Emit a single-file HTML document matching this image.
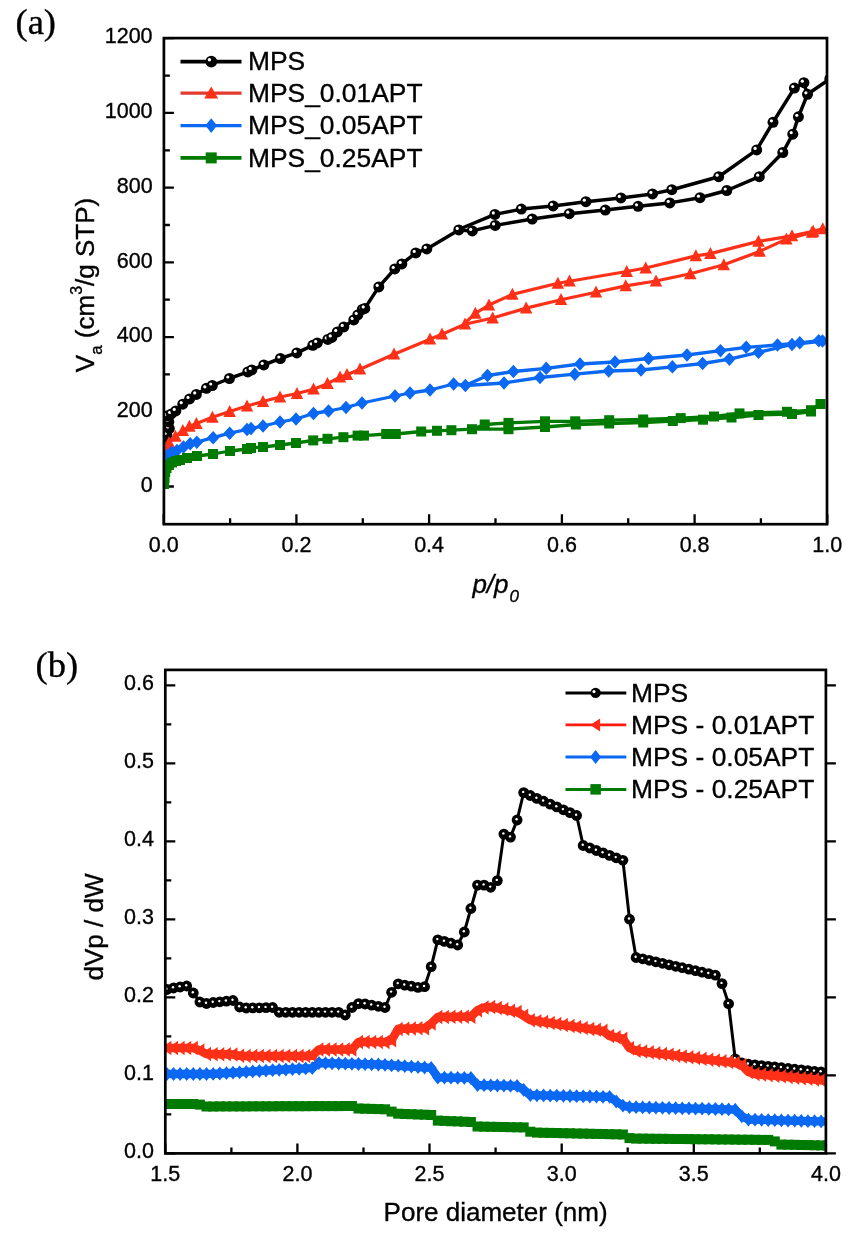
<!DOCTYPE html>
<html><head><meta charset="utf-8"><title>Isotherms</title>
<style>
html,body{margin:0;padding:0;background:#fff;width:850px;height:1235px;overflow:hidden}
svg{display:block;filter:blur(0.4px)}
text{font-family:"Liberation Sans",sans-serif;fill:#000;stroke:#000;stroke-width:0.35px}
.tk{font-size:21.5px}
.lg{font-size:26.4px}
.at{font-size:26px}
.pl{font-family:"Liberation Serif",serif;font-size:36.5px}
</style></head><body>
<svg width="850" height="1235" viewBox="0 0 850 1235">
<rect width="850" height="1235" fill="#fff"/>
<text x="15.5" y="34.2" class="pl">(a)</text>
<text x="35.5" y="677.2" class="pl">(b)</text>
<g id="pa">
<clipPath id="ca"><rect x="163.9" y="38.1" width="663.1" height="486.1"/></clipPath>
<path d="M163.9 486.5H173.9M163.9 449.1H169.9M163.9 411.8H173.9M163.9 374.4H169.9M163.9 337.1H173.9M163.9 299.7H169.9M163.9 262.4H173.9M163.9 225H169.9M163.9 187.6H173.9M163.9 150.3H169.9M163.9 112.9H173.9M163.9 75.6H169.9M163.9 38.2H173.9M163.7 524.2V514.2M230.1 524.2V518.2M296.4 524.2V514.2M362.8 524.2V518.2M429.1 524.2V514.2M495.5 524.2V518.2M561.9 524.2V514.2M628.2 524.2V518.2M694.6 524.2V514.2M760.9 524.2V518.2M827.3 524.2V514.2" stroke="#000" stroke-width="2.3" fill="none"/>
<g clip-path="url(#ca)">
<polyline points="165.1,441.9 166.8,434.9 169.3,428.4 168.8,421.9 167.5,416.1 171.3,413.9 175.8,410.9 182.8,404.2 189.6,398.9 196.3,394.4 206.4,388.3 212.3,385.5 229.4,378.5 247.8,371.9 251.8,369.9 263.8,364.9 280.4,358.5 296.8,352.9 312.8,345.3 317.3,342.9 327.8,339.4 331.8,337.4 337.3,331.9 343.8,326.9 353.8,319.9 357.8,314.9 362.3,309.4 364.8,308.4 378.8,286.9 394.8,268.9 401.8,263.9 415.8,252.9 426.8,248.9 458.8,229.9 472.3,230.9 495.2,225.4 532.2,219 569.3,213.7 605.3,210.1 638.1,206.3 669.8,202.9 700,197.7 726.8,190.5 759.3,176.7 782.8,152.5 792.8,134.2 798.4,116.8 807.5,94.3 829.8,78.9" fill="none" stroke="#000" stroke-width="3.5" stroke-linejoin="round" stroke-linecap="round"/>
<polyline points="807.2,93.9 803.9,82.7 794.4,88.1 773,122.3 756.7,149.9 718.7,176.7 671.8,189.7 652.5,193.9 620.9,197.9 585.9,201.7 553.1,205.9 521.3,209.1 494.9,214.4 458.5,229.5" fill="none" stroke="#000" stroke-width="3.5" stroke-linejoin="round" stroke-linecap="round"/>
<circle cx="165.1" cy="441.9" r="5.5" fill="#000"/><circle cx="163.5" cy="440.4" r="1.6" fill="#fff"/>
<circle cx="166.8" cy="434.9" r="5.5" fill="#000"/><circle cx="165.2" cy="433.4" r="1.6" fill="#fff"/>
<circle cx="169.3" cy="428.4" r="5.5" fill="#000"/><circle cx="167.7" cy="426.9" r="1.6" fill="#fff"/>
<circle cx="168.8" cy="421.9" r="5.5" fill="#000"/><circle cx="167.2" cy="420.4" r="1.6" fill="#fff"/>
<circle cx="167.5" cy="416.1" r="5.5" fill="#000"/><circle cx="165.9" cy="414.6" r="1.6" fill="#fff"/>
<circle cx="171.3" cy="413.9" r="5.5" fill="#000"/><circle cx="169.7" cy="412.4" r="1.6" fill="#fff"/>
<circle cx="175.8" cy="410.9" r="5.5" fill="#000"/><circle cx="174.2" cy="409.4" r="1.6" fill="#fff"/>
<circle cx="182.8" cy="404.2" r="5.5" fill="#000"/><circle cx="181.2" cy="402.7" r="1.6" fill="#fff"/>
<circle cx="189.6" cy="398.9" r="5.5" fill="#000"/><circle cx="188" cy="397.4" r="1.6" fill="#fff"/>
<circle cx="196.3" cy="394.4" r="5.5" fill="#000"/><circle cx="194.7" cy="392.9" r="1.6" fill="#fff"/>
<circle cx="206.4" cy="388.3" r="5.5" fill="#000"/><circle cx="204.8" cy="386.8" r="1.6" fill="#fff"/>
<circle cx="212.3" cy="385.5" r="5.5" fill="#000"/><circle cx="210.7" cy="384" r="1.6" fill="#fff"/>
<circle cx="229.4" cy="378.5" r="5.5" fill="#000"/><circle cx="227.8" cy="377" r="1.6" fill="#fff"/>
<circle cx="247.8" cy="371.9" r="5.5" fill="#000"/><circle cx="246.2" cy="370.4" r="1.6" fill="#fff"/>
<circle cx="251.8" cy="369.9" r="5.5" fill="#000"/><circle cx="250.2" cy="368.4" r="1.6" fill="#fff"/>
<circle cx="263.8" cy="364.9" r="5.5" fill="#000"/><circle cx="262.2" cy="363.4" r="1.6" fill="#fff"/>
<circle cx="280.4" cy="358.5" r="5.5" fill="#000"/><circle cx="278.8" cy="357" r="1.6" fill="#fff"/>
<circle cx="296.8" cy="352.9" r="5.5" fill="#000"/><circle cx="295.2" cy="351.4" r="1.6" fill="#fff"/>
<circle cx="312.8" cy="345.3" r="5.5" fill="#000"/><circle cx="311.2" cy="343.8" r="1.6" fill="#fff"/>
<circle cx="317.3" cy="342.9" r="5.5" fill="#000"/><circle cx="315.7" cy="341.4" r="1.6" fill="#fff"/>
<circle cx="327.8" cy="339.4" r="5.5" fill="#000"/><circle cx="326.2" cy="337.9" r="1.6" fill="#fff"/>
<circle cx="331.8" cy="337.4" r="5.5" fill="#000"/><circle cx="330.2" cy="335.9" r="1.6" fill="#fff"/>
<circle cx="337.3" cy="331.9" r="5.5" fill="#000"/><circle cx="335.7" cy="330.4" r="1.6" fill="#fff"/>
<circle cx="343.8" cy="326.9" r="5.5" fill="#000"/><circle cx="342.2" cy="325.4" r="1.6" fill="#fff"/>
<circle cx="353.8" cy="319.9" r="5.5" fill="#000"/><circle cx="352.2" cy="318.4" r="1.6" fill="#fff"/>
<circle cx="357.8" cy="314.9" r="5.5" fill="#000"/><circle cx="356.2" cy="313.4" r="1.6" fill="#fff"/>
<circle cx="362.3" cy="309.4" r="5.5" fill="#000"/><circle cx="360.7" cy="307.9" r="1.6" fill="#fff"/>
<circle cx="364.8" cy="308.4" r="5.5" fill="#000"/><circle cx="363.2" cy="306.9" r="1.6" fill="#fff"/>
<circle cx="378.8" cy="286.9" r="5.5" fill="#000"/><circle cx="377.2" cy="285.4" r="1.6" fill="#fff"/>
<circle cx="394.8" cy="268.9" r="5.5" fill="#000"/><circle cx="393.2" cy="267.4" r="1.6" fill="#fff"/>
<circle cx="401.8" cy="263.9" r="5.5" fill="#000"/><circle cx="400.2" cy="262.4" r="1.6" fill="#fff"/>
<circle cx="415.8" cy="252.9" r="5.5" fill="#000"/><circle cx="414.2" cy="251.4" r="1.6" fill="#fff"/>
<circle cx="426.8" cy="248.9" r="5.5" fill="#000"/><circle cx="425.2" cy="247.4" r="1.6" fill="#fff"/>
<circle cx="458.8" cy="229.9" r="5.5" fill="#000"/><circle cx="457.2" cy="228.4" r="1.6" fill="#fff"/>
<circle cx="472.3" cy="230.9" r="5.5" fill="#000"/><circle cx="470.7" cy="229.4" r="1.6" fill="#fff"/>
<circle cx="495.2" cy="225.4" r="5.5" fill="#000"/><circle cx="493.6" cy="223.9" r="1.6" fill="#fff"/>
<circle cx="532.2" cy="219" r="5.5" fill="#000"/><circle cx="530.6" cy="217.5" r="1.6" fill="#fff"/>
<circle cx="569.3" cy="213.7" r="5.5" fill="#000"/><circle cx="567.7" cy="212.2" r="1.6" fill="#fff"/>
<circle cx="605.3" cy="210.1" r="5.5" fill="#000"/><circle cx="603.7" cy="208.6" r="1.6" fill="#fff"/>
<circle cx="638.1" cy="206.3" r="5.5" fill="#000"/><circle cx="636.5" cy="204.8" r="1.6" fill="#fff"/>
<circle cx="669.8" cy="202.9" r="5.5" fill="#000"/><circle cx="668.2" cy="201.4" r="1.6" fill="#fff"/>
<circle cx="700" cy="197.7" r="5.5" fill="#000"/><circle cx="698.4" cy="196.2" r="1.6" fill="#fff"/>
<circle cx="726.8" cy="190.5" r="5.5" fill="#000"/><circle cx="725.2" cy="189" r="1.6" fill="#fff"/>
<circle cx="759.3" cy="176.7" r="5.5" fill="#000"/><circle cx="757.7" cy="175.2" r="1.6" fill="#fff"/>
<circle cx="782.8" cy="152.5" r="5.5" fill="#000"/><circle cx="781.2" cy="151" r="1.6" fill="#fff"/>
<circle cx="792.8" cy="134.2" r="5.5" fill="#000"/><circle cx="791.2" cy="132.7" r="1.6" fill="#fff"/>
<circle cx="798.4" cy="116.8" r="5.5" fill="#000"/><circle cx="796.8" cy="115.3" r="1.6" fill="#fff"/>
<circle cx="807.5" cy="94.3" r="5.5" fill="#000"/><circle cx="805.9" cy="92.8" r="1.6" fill="#fff"/>
<circle cx="829.8" cy="78.9" r="5.5" fill="#000"/><circle cx="828.2" cy="77.4" r="1.6" fill="#fff"/>
<circle cx="803.9" cy="82.7" r="5.5" fill="#000"/><circle cx="802.3" cy="81.2" r="1.6" fill="#fff"/>
<circle cx="794.4" cy="88.1" r="5.5" fill="#000"/><circle cx="792.8" cy="86.6" r="1.6" fill="#fff"/>
<circle cx="773" cy="122.3" r="5.5" fill="#000"/><circle cx="771.4" cy="120.8" r="1.6" fill="#fff"/>
<circle cx="756.7" cy="149.9" r="5.5" fill="#000"/><circle cx="755.1" cy="148.4" r="1.6" fill="#fff"/>
<circle cx="718.7" cy="176.7" r="5.5" fill="#000"/><circle cx="717.1" cy="175.2" r="1.6" fill="#fff"/>
<circle cx="671.8" cy="189.7" r="5.5" fill="#000"/><circle cx="670.2" cy="188.2" r="1.6" fill="#fff"/>
<circle cx="652.5" cy="193.9" r="5.5" fill="#000"/><circle cx="650.9" cy="192.4" r="1.6" fill="#fff"/>
<circle cx="620.9" cy="197.9" r="5.5" fill="#000"/><circle cx="619.3" cy="196.4" r="1.6" fill="#fff"/>
<circle cx="585.9" cy="201.7" r="5.5" fill="#000"/><circle cx="584.3" cy="200.2" r="1.6" fill="#fff"/>
<circle cx="553.1" cy="205.9" r="5.5" fill="#000"/><circle cx="551.5" cy="204.4" r="1.6" fill="#fff"/>
<circle cx="521.3" cy="209.1" r="5.5" fill="#000"/><circle cx="519.7" cy="207.6" r="1.6" fill="#fff"/>
<circle cx="494.9" cy="214.4" r="5.5" fill="#000"/><circle cx="493.3" cy="212.9" r="1.6" fill="#fff"/>
<polyline points="164,453 166,448 169,442.5 175.4,436.3 182.8,430.5 189.4,426.4 196.4,423.5 212.4,417.3 229.7,411.6 247,406 263,401.5 280,397 297,393.5 313.5,389.2 327.5,383.7 340,377.2 347,374.7 360,369.2 394,354.2 430,339.2 442,334.2 465,324.2 492.7,318 526.1,308.1 561,299.7 596,292.2 625.7,285.9 656,281 690.3,273.8 723.8,264.8 759.6,251.4 786.4,239.1 812,232.4 822.8,228.8" fill="none" stroke="#fe3018" stroke-width="3.2" stroke-linejoin="round" stroke-linecap="round"/>
<polyline points="465,323 475.3,313.4 489,305 512.4,294.4 557.9,283.3 569.5,281.2 626.7,271.5 645.7,268 695.9,255.9 710.4,253.6 758.5,241.4 792,235.8 813.2,231.3 822.8,228.8" fill="none" stroke="#fe3018" stroke-width="3.2" stroke-linejoin="round" stroke-linecap="round"/>
<polygon points="164,446.4 170.2,458.4 157.8,458.4" fill="#fe3018"/>
<polygon points="166,441.4 172.2,453.4 159.8,453.4" fill="#fe3018"/>
<polygon points="169,435.9 175.2,447.9 162.8,447.9" fill="#fe3018"/>
<polygon points="175.4,429.7 181.7,441.7 169.2,441.7" fill="#fe3018"/>
<polygon points="182.8,423.9 189.1,435.9 176.6,435.9" fill="#fe3018"/>
<polygon points="189.4,419.8 195.7,431.8 183.2,431.8" fill="#fe3018"/>
<polygon points="196.4,416.9 202.7,428.9 190.2,428.9" fill="#fe3018"/>
<polygon points="212.4,410.7 218.7,422.7 206.2,422.7" fill="#fe3018"/>
<polygon points="229.7,405 235.9,417 223.4,417" fill="#fe3018"/>
<polygon points="247,399.4 253.2,411.4 240.8,411.4" fill="#fe3018"/>
<polygon points="263,394.9 269.2,406.9 256.8,406.9" fill="#fe3018"/>
<polygon points="280,390.4 286.2,402.4 273.8,402.4" fill="#fe3018"/>
<polygon points="297,386.9 303.2,398.9 290.8,398.9" fill="#fe3018"/>
<polygon points="313.5,382.6 319.8,394.6 307.2,394.6" fill="#fe3018"/>
<polygon points="327.5,377.1 333.8,389.1 321.2,389.1" fill="#fe3018"/>
<polygon points="340,370.6 346.2,382.6 333.8,382.6" fill="#fe3018"/>
<polygon points="347,368.1 353.2,380.1 340.8,380.1" fill="#fe3018"/>
<polygon points="360,362.6 366.2,374.6 353.8,374.6" fill="#fe3018"/>
<polygon points="394,347.6 400.2,359.6 387.8,359.6" fill="#fe3018"/>
<polygon points="430,332.6 436.2,344.6 423.8,344.6" fill="#fe3018"/>
<polygon points="442,327.6 448.2,339.6 435.8,339.6" fill="#fe3018"/>
<polygon points="465,317.6 471.2,329.6 458.8,329.6" fill="#fe3018"/>
<polygon points="492.7,311.4 498.9,323.4 486.4,323.4" fill="#fe3018"/>
<polygon points="526.1,301.5 532.4,313.5 519.9,313.5" fill="#fe3018"/>
<polygon points="561,293.1 567.2,305.1 554.8,305.1" fill="#fe3018"/>
<polygon points="596,285.6 602.2,297.6 589.8,297.6" fill="#fe3018"/>
<polygon points="625.7,279.3 632,291.3 619.5,291.3" fill="#fe3018"/>
<polygon points="656,274.4 662.2,286.4 649.8,286.4" fill="#fe3018"/>
<polygon points="690.3,267.2 696.5,279.2 684,279.2" fill="#fe3018"/>
<polygon points="723.8,258.2 730,270.2 717.5,270.2" fill="#fe3018"/>
<polygon points="759.6,244.8 765.9,256.8 753.4,256.8" fill="#fe3018"/>
<polygon points="786.4,232.5 792.6,244.5 780.1,244.5" fill="#fe3018"/>
<polygon points="812,225.8 818.2,237.8 805.8,237.8" fill="#fe3018"/>
<polygon points="822.8,222.2 829,234.2 816.5,234.2" fill="#fe3018"/>
<polygon points="475.3,306.8 481.6,318.8 469.1,318.8" fill="#fe3018"/>
<polygon points="489,298.4 495.2,310.4 482.8,310.4" fill="#fe3018"/>
<polygon points="512.4,287.8 518.6,299.8 506.1,299.8" fill="#fe3018"/>
<polygon points="557.9,276.7 564.1,288.7 551.6,288.7" fill="#fe3018"/>
<polygon points="569.5,274.6 575.8,286.6 563.2,286.6" fill="#fe3018"/>
<polygon points="626.7,264.9 633,276.9 620.5,276.9" fill="#fe3018"/>
<polygon points="645.7,261.4 652,273.4 639.5,273.4" fill="#fe3018"/>
<polygon points="695.9,249.3 702.1,261.3 689.6,261.3" fill="#fe3018"/>
<polygon points="710.4,247 716.6,259 704.1,259" fill="#fe3018"/>
<polygon points="758.5,234.8 764.8,246.8 752.2,246.8" fill="#fe3018"/>
<polygon points="792,229.2 798.2,241.2 785.8,241.2" fill="#fe3018"/>
<polygon points="813.2,224.7 819.5,236.7 807,236.7" fill="#fe3018"/>
<polyline points="164,462 165.5,458 168,455 171.5,452.5 177,450.5 183.5,447 190.2,443.7 196.8,442.2 213.2,437.7 229.7,433.2 247,429.5 251,428.5 263,426 280,422 296,419 313.5,413.5 328.5,411 346,407.5 362,403 395,396 410,393 430,390 453.6,384 465.4,385.5 504,383 540,377.5 574.8,374.2 608.7,371 641,370 672.4,366.9 702.6,363.5 729.4,359.1 758.5,352.4 792,344.5 822.5,341" fill="none" stroke="#0a68f2" stroke-width="3.3" stroke-linejoin="round" stroke-linecap="round"/>
<polyline points="465.4,385.5 487.5,375.5 513.4,371.5 546.2,368.4 580,364 615,362 648.5,358.5 687,355 720.5,350.6 746.2,347.3 777.5,345 799.8,342.8 818.8,340.6 822.5,341.5" fill="none" stroke="#0a68f2" stroke-width="3.3" stroke-linejoin="round" stroke-linecap="round"/>
<polygon points="164,455.2 170.2,462 164,468.8 157.8,462" fill="#0a68f2"/>
<polygon points="165.5,451.2 171.8,458 165.5,464.8 159.2,458" fill="#0a68f2"/>
<polygon points="168,448.2 174.2,455 168,461.8 161.8,455" fill="#0a68f2"/>
<polygon points="171.5,445.8 177.8,452.5 171.5,459.2 165.2,452.5" fill="#0a68f2"/>
<polygon points="177,443.8 183.2,450.5 177,457.2 170.8,450.5" fill="#0a68f2"/>
<polygon points="183.5,440.2 189.8,447 183.5,453.8 177.2,447" fill="#0a68f2"/>
<polygon points="190.2,436.9 196.4,443.7 190.2,450.4 183.9,443.7" fill="#0a68f2"/>
<polygon points="196.8,435.4 203.1,442.2 196.8,448.9 190.6,442.2" fill="#0a68f2"/>
<polygon points="213.2,430.9 219.4,437.7 213.2,444.4 206.9,437.7" fill="#0a68f2"/>
<polygon points="229.7,426.4 235.9,433.2 229.7,439.9 223.4,433.2" fill="#0a68f2"/>
<polygon points="247,422.8 253.2,429.5 247,436.2 240.8,429.5" fill="#0a68f2"/>
<polygon points="251,421.8 257.2,428.5 251,435.2 244.8,428.5" fill="#0a68f2"/>
<polygon points="263,419.2 269.2,426 263,432.8 256.8,426" fill="#0a68f2"/>
<polygon points="280,415.2 286.2,422 280,428.8 273.8,422" fill="#0a68f2"/>
<polygon points="296,412.2 302.2,419 296,425.8 289.8,419" fill="#0a68f2"/>
<polygon points="313.5,406.8 319.8,413.5 313.5,420.2 307.2,413.5" fill="#0a68f2"/>
<polygon points="328.5,404.2 334.8,411 328.5,417.8 322.2,411" fill="#0a68f2"/>
<polygon points="346,400.8 352.2,407.5 346,414.2 339.8,407.5" fill="#0a68f2"/>
<polygon points="362,396.2 368.2,403 362,409.8 355.8,403" fill="#0a68f2"/>
<polygon points="395,389.2 401.2,396 395,402.8 388.8,396" fill="#0a68f2"/>
<polygon points="410,386.2 416.2,393 410,399.8 403.8,393" fill="#0a68f2"/>
<polygon points="430,383.2 436.2,390 430,396.8 423.8,390" fill="#0a68f2"/>
<polygon points="453.6,377.2 459.9,384 453.6,390.8 447.4,384" fill="#0a68f2"/>
<polygon points="465.4,378.8 471.6,385.5 465.4,392.2 459.1,385.5" fill="#0a68f2"/>
<polygon points="504,376.2 510.2,383 504,389.8 497.8,383" fill="#0a68f2"/>
<polygon points="540,370.8 546.2,377.5 540,384.2 533.8,377.5" fill="#0a68f2"/>
<polygon points="574.8,367.4 581,374.2 574.8,380.9 568.5,374.2" fill="#0a68f2"/>
<polygon points="608.7,364.2 615,371 608.7,377.8 602.5,371" fill="#0a68f2"/>
<polygon points="641,363.2 647.2,370 641,376.8 634.8,370" fill="#0a68f2"/>
<polygon points="672.4,360.1 678.6,366.9 672.4,373.6 666.1,366.9" fill="#0a68f2"/>
<polygon points="702.6,356.8 708.9,363.5 702.6,370.2 696.4,363.5" fill="#0a68f2"/>
<polygon points="729.4,352.4 735.6,359.1 729.4,365.9 723.1,359.1" fill="#0a68f2"/>
<polygon points="758.5,345.6 764.8,352.4 758.5,359.1 752.2,352.4" fill="#0a68f2"/>
<polygon points="792,337.8 798.2,344.5 792,351.2 785.8,344.5" fill="#0a68f2"/>
<polygon points="822.5,334.2 828.8,341 822.5,347.8 816.2,341" fill="#0a68f2"/>
<polygon points="487.5,368.8 493.8,375.5 487.5,382.2 481.2,375.5" fill="#0a68f2"/>
<polygon points="513.4,364.8 519.6,371.5 513.4,378.2 507.1,371.5" fill="#0a68f2"/>
<polygon points="546.2,361.6 552.5,368.4 546.2,375.1 540,368.4" fill="#0a68f2"/>
<polygon points="580,357.2 586.2,364 580,370.8 573.8,364" fill="#0a68f2"/>
<polygon points="615,355.2 621.2,362 615,368.8 608.8,362" fill="#0a68f2"/>
<polygon points="648.5,351.8 654.8,358.5 648.5,365.2 642.2,358.5" fill="#0a68f2"/>
<polygon points="687,348.2 693.2,355 687,361.8 680.8,355" fill="#0a68f2"/>
<polygon points="720.5,343.9 726.8,350.6 720.5,357.4 714.2,350.6" fill="#0a68f2"/>
<polygon points="746.2,340.6 752.5,347.3 746.2,354.1 740,347.3" fill="#0a68f2"/>
<polygon points="777.5,338.2 783.8,345 777.5,351.8 771.2,345" fill="#0a68f2"/>
<polygon points="799.8,336.1 806,342.8 799.8,349.6 793.5,342.8" fill="#0a68f2"/>
<polygon points="818.8,333.9 825,340.6 818.8,347.4 812.5,340.6" fill="#0a68f2"/>
<polyline points="164,484 164.5,478 165.2,472 166.5,468 169,465 172,462.5 176,461 180,460 187,458 197,456 213,454 230,451 247,449 251,448 263,447 280,445 296,443 313.2,440.4 327.5,438.8 343.4,437.2 357.6,435.6 364,435.6 386.2,434 395.8,434 421.2,431.5 437,430.8 451.4,430.2 472,429.2 508.5,429.2 545,427 575.9,424.5 609.2,423.5 643.2,422.5 672.8,421 703,419.7 731.5,417.5 758.5,415 792,414 811,411.5 820.5,404" fill="none" stroke="#007a00" stroke-width="3.3" stroke-linejoin="round" stroke-linecap="round"/>
<polyline points="472,429.2 484.7,424.5 508.5,422.9 545,421.3 575.2,421.3 609.2,420.2 643.2,419.5 680.7,418.1 714,416.5 739.5,413.4 787,411.8 811,410.2 820.5,404" fill="none" stroke="#007a00" stroke-width="3.3" stroke-linejoin="round" stroke-linecap="round"/>
<rect x="159" y="479" width="10" height="10" fill="#007a00"/>
<rect x="159.5" y="473" width="10" height="10" fill="#007a00"/>
<rect x="160.2" y="467" width="10" height="10" fill="#007a00"/>
<rect x="161.5" y="463" width="10" height="10" fill="#007a00"/>
<rect x="164" y="460" width="10" height="10" fill="#007a00"/>
<rect x="167" y="457.5" width="10" height="10" fill="#007a00"/>
<rect x="171" y="456" width="10" height="10" fill="#007a00"/>
<rect x="175" y="455" width="10" height="10" fill="#007a00"/>
<rect x="182" y="453" width="10" height="10" fill="#007a00"/>
<rect x="192" y="451" width="10" height="10" fill="#007a00"/>
<rect x="208" y="449" width="10" height="10" fill="#007a00"/>
<rect x="225" y="446" width="10" height="10" fill="#007a00"/>
<rect x="242" y="444" width="10" height="10" fill="#007a00"/>
<rect x="246" y="443" width="10" height="10" fill="#007a00"/>
<rect x="258" y="442" width="10" height="10" fill="#007a00"/>
<rect x="275" y="440" width="10" height="10" fill="#007a00"/>
<rect x="291" y="438" width="10" height="10" fill="#007a00"/>
<rect x="308.2" y="435.4" width="10" height="10" fill="#007a00"/>
<rect x="322.5" y="433.8" width="10" height="10" fill="#007a00"/>
<rect x="338.4" y="432.2" width="10" height="10" fill="#007a00"/>
<rect x="352.6" y="430.6" width="10" height="10" fill="#007a00"/>
<rect x="359" y="430.6" width="10" height="10" fill="#007a00"/>
<rect x="381.2" y="429" width="10" height="10" fill="#007a00"/>
<rect x="390.8" y="429" width="10" height="10" fill="#007a00"/>
<rect x="416.2" y="426.5" width="10" height="10" fill="#007a00"/>
<rect x="432" y="425.8" width="10" height="10" fill="#007a00"/>
<rect x="446.4" y="425.2" width="10" height="10" fill="#007a00"/>
<rect x="467" y="424.2" width="10" height="10" fill="#007a00"/>
<rect x="503.5" y="424.2" width="10" height="10" fill="#007a00"/>
<rect x="540" y="422" width="10" height="10" fill="#007a00"/>
<rect x="570.9" y="419.5" width="10" height="10" fill="#007a00"/>
<rect x="604.2" y="418.5" width="10" height="10" fill="#007a00"/>
<rect x="638.2" y="417.5" width="10" height="10" fill="#007a00"/>
<rect x="667.8" y="416" width="10" height="10" fill="#007a00"/>
<rect x="698" y="414.7" width="10" height="10" fill="#007a00"/>
<rect x="726.5" y="412.5" width="10" height="10" fill="#007a00"/>
<rect x="753.5" y="410" width="10" height="10" fill="#007a00"/>
<rect x="787" y="409" width="10" height="10" fill="#007a00"/>
<rect x="806" y="406.5" width="10" height="10" fill="#007a00"/>
<rect x="815.5" y="399" width="10" height="10" fill="#007a00"/>
<rect x="479.7" y="419.5" width="10" height="10" fill="#007a00"/>
<rect x="503.5" y="417.9" width="10" height="10" fill="#007a00"/>
<rect x="540" y="416.3" width="10" height="10" fill="#007a00"/>
<rect x="570.2" y="416.3" width="10" height="10" fill="#007a00"/>
<rect x="604.2" y="415.2" width="10" height="10" fill="#007a00"/>
<rect x="638.2" y="414.5" width="10" height="10" fill="#007a00"/>
<rect x="675.7" y="413.1" width="10" height="10" fill="#007a00"/>
<rect x="709" y="411.5" width="10" height="10" fill="#007a00"/>
<rect x="734.5" y="408.4" width="10" height="10" fill="#007a00"/>
<rect x="782" y="406.8" width="10" height="10" fill="#007a00"/>
<rect x="806" y="405.2" width="10" height="10" fill="#007a00"/>
</g>
<rect x="163.9" y="38.1" width="663.1" height="486.1" fill="none" stroke="#000" stroke-width="2.7"/>
<text x="152.6" y="491.6" class="tk" text-anchor="end">0</text>
<text x="152.6" y="416.9" class="tk" text-anchor="end">200</text>
<text x="152.6" y="342.2" class="tk" text-anchor="end">400</text>
<text x="152.6" y="267.5" class="tk" text-anchor="end">600</text>
<text x="152.6" y="192.7" class="tk" text-anchor="end">800</text>
<text x="152.6" y="118" class="tk" text-anchor="end">1000</text>
<text x="152.6" y="43.3" class="tk" text-anchor="end">1200</text>
<text x="163.7" y="552" class="tk" text-anchor="middle">0.0</text>
<text x="296.4" y="552" class="tk" text-anchor="middle">0.2</text>
<text x="429.1" y="552" class="tk" text-anchor="middle">0.4</text>
<text x="561.9" y="552" class="tk" text-anchor="middle">0.6</text>
<text x="694.6" y="552" class="tk" text-anchor="middle">0.8</text>
<text x="827.3" y="552" class="tk" text-anchor="middle">1.0</text>
<line x1="180.5" y1="61.6" x2="241.5" y2="61.6" stroke="#000" stroke-width="3.6"/>
<circle cx="211.3" cy="61.6" r="5.9" fill="#000"/><circle cx="209.4" cy="59.8" r="1.7" fill="#fff"/>
<line x1="180.5" y1="93.2" x2="241.5" y2="93.2" stroke="#e23a2e" stroke-width="3.2"/>
<polygon points="211.2,86.6 218.2,98.6 204.2,98.6" fill="#fe3018"/>
<line x1="180.5" y1="125.6" x2="241.5" y2="125.6" stroke="#0a68f2" stroke-width="3.4"/>
<polygon points="211.2,118.3 217,125.6 211.2,132.9 205.4,125.6" fill="#0a68f2"/>
<line x1="180.5" y1="157.9" x2="241.5" y2="157.9" stroke="#007a00" stroke-width="3.6"/>
<rect x="205.7" y="152.4" width="11" height="11" fill="#007a00"/>
<text x="248" y="70.4" class="lg">MPS</text>
<text x="248" y="102" class="lg">MPS_0.01APT</text>
<text x="248" y="134.4" class="lg">MPS_0.05APT</text>
<text x="248" y="166.7" class="lg">MPS_0.25APT</text>
<text transform="translate(94,285) rotate(-90)" text-anchor="middle" class="at">V<tspan font-size="17" dy="7.5">a</tspan><tspan dy="-7.5"> (cm</tspan><tspan font-size="16" dy="-12.5">3</tspan><tspan dy="12.5">/g STP)</tspan></text>
<text x="472.4" y="592.5" class="at" font-style="italic">p/p<tspan font-size="17" dy="9.5" dx="1">0</tspan></text>
</g>
<g id="pb">
<clipPath id="cb"><rect x="165.3" y="669.9" width="660.6" height="483.5"/></clipPath>
<path d="M165.3 1153.4H175.3M825.9 1153.4H835.9M165.3 1114.4H171.3M165.3 1075.4H175.3M825.9 1075.4H835.9M165.3 1036.4H171.3M165.3 997.4H175.3M825.9 997.4H835.9M165.3 958.4H171.3M165.3 919.3H175.3M825.9 919.3H835.9M165.3 880.3H171.3M165.3 841.3H175.3M825.9 841.3H835.9M165.3 802.3H171.3M165.3 763.3H175.3M825.9 763.3H835.9M165.3 724.3H171.3M165.3 685.3H175.3M825.9 685.3H835.9M165.3 1153.4V1143.4M231.4 1153.4V1147.4M297.4 1153.4V1143.4M363.5 1153.4V1147.4M429.5 1153.4V1143.4M495.6 1153.4V1147.4M561.7 1153.4V1143.4M627.7 1153.4V1147.4M693.8 1153.4V1143.4M759.8 1153.4V1147.4M825.9 1153.4V1143.4" stroke="#000" stroke-width="2.3" fill="none"/>
<g clip-path="url(#cb)">
<polyline points="166.9,989.5 173.5,988 180.1,987 186.7,986 193.3,993 199.9,1002 206.5,1003.5 213.2,1002.5 219.8,1001.8 226.4,1001.2 233,1000.5 239.6,1007 246.2,1008 252.8,1007.9 259.4,1007.8 266,1007.6 272.6,1007.5 279.2,1012.3 285.8,1012.3 292.5,1012.3 299.1,1012.3 305.7,1012.3 312.3,1012.3 318.9,1012.3 325.5,1012.3 332.1,1012.3 338.7,1012.3 345.3,1015 351.9,1007.5 358.5,1003.6 365.1,1004 371.7,1005.2 378.4,1006.3 385,1007.5 391.6,992.3 398.2,983.8 404.8,985.2 411.4,986.1 418,987.4 424.6,986.7 431.2,966.6 437.8,939.8 444.4,941.4 451,943.2 457.7,945 464.3,932 470.9,908.5 477.5,885.1 484.1,885.1 490.7,887.3 497.3,880.6 503.9,834.1 510.5,837.1 517.1,820 523.7,792.6 530.3,795.5 536.9,798.4 543.6,801.2 550.2,804.1 556.8,806.9 563.4,809.8 570,812.6 576.6,815.5 583.2,845.5 589.8,848 596.4,850.5 603,852.9 609.6,855.4 616.2,857.8 622.9,860.3 629.5,919.2 636.1,957.5 642.7,958.8 649.3,960.3 655.9,961.8 662.5,963.3 669.1,964.8 675.7,966.3 682.3,967.7 688.9,969.2 695.5,970.7 702.1,972.2 708.8,973.7 715.4,975.2 722,983.6 728.6,1003.8 735.2,1059 741.8,1063 748.4,1064.2 755,1064.9 761.6,1065.6 768.2,1066.3 774.8,1067 781.4,1067.7 788.1,1068.5 794.7,1069.2 801.3,1069.9 807.9,1070.6 814.5,1071.3 821.1,1072 827.7,1072.5" fill="none" stroke="#000" stroke-width="3.0" stroke-linejoin="round" stroke-linecap="round"/>
<circle cx="166.9" cy="989.5" r="5.4" fill="#000"/><circle cx="166.4" cy="988.8" r="1.2" fill="#fff"/>
<circle cx="173.5" cy="988" r="5.4" fill="#000"/><circle cx="173" cy="987.3" r="1.2" fill="#fff"/>
<circle cx="180.1" cy="987" r="5.4" fill="#000"/><circle cx="179.6" cy="986.3" r="1.2" fill="#fff"/>
<circle cx="186.7" cy="986" r="5.4" fill="#000"/><circle cx="186.2" cy="985.3" r="1.2" fill="#fff"/>
<circle cx="193.3" cy="993" r="5.4" fill="#000"/><circle cx="192.8" cy="992.3" r="1.2" fill="#fff"/>
<circle cx="199.9" cy="1002" r="5.4" fill="#000"/><circle cx="199.4" cy="1001.3" r="1.2" fill="#fff"/>
<circle cx="206.5" cy="1003.5" r="5.4" fill="#000"/><circle cx="206" cy="1002.8" r="1.2" fill="#fff"/>
<circle cx="213.2" cy="1002.5" r="5.4" fill="#000"/><circle cx="212.7" cy="1001.8" r="1.2" fill="#fff"/>
<circle cx="219.8" cy="1001.8" r="5.4" fill="#000"/><circle cx="219.3" cy="1001.1" r="1.2" fill="#fff"/>
<circle cx="226.4" cy="1001.2" r="5.4" fill="#000"/><circle cx="225.9" cy="1000.5" r="1.2" fill="#fff"/>
<circle cx="233" cy="1000.5" r="5.4" fill="#000"/><circle cx="232.5" cy="999.8" r="1.2" fill="#fff"/>
<circle cx="239.6" cy="1007" r="5.4" fill="#000"/><circle cx="239.1" cy="1006.3" r="1.2" fill="#fff"/>
<circle cx="246.2" cy="1008" r="5.4" fill="#000"/><circle cx="245.7" cy="1007.3" r="1.2" fill="#fff"/>
<circle cx="252.8" cy="1007.9" r="5.4" fill="#000"/><circle cx="252.3" cy="1007.2" r="1.2" fill="#fff"/>
<circle cx="259.4" cy="1007.8" r="5.4" fill="#000"/><circle cx="258.9" cy="1007" r="1.2" fill="#fff"/>
<circle cx="266" cy="1007.6" r="5.4" fill="#000"/><circle cx="265.5" cy="1006.9" r="1.2" fill="#fff"/>
<circle cx="272.6" cy="1007.5" r="5.4" fill="#000"/><circle cx="272.1" cy="1006.8" r="1.2" fill="#fff"/>
<circle cx="279.2" cy="1012.3" r="5.4" fill="#000"/><circle cx="278.7" cy="1011.6" r="1.2" fill="#fff"/>
<circle cx="285.8" cy="1012.3" r="5.4" fill="#000"/><circle cx="285.3" cy="1011.6" r="1.2" fill="#fff"/>
<circle cx="292.5" cy="1012.3" r="5.4" fill="#000"/><circle cx="292" cy="1011.6" r="1.2" fill="#fff"/>
<circle cx="299.1" cy="1012.3" r="5.4" fill="#000"/><circle cx="298.6" cy="1011.6" r="1.2" fill="#fff"/>
<circle cx="305.7" cy="1012.3" r="5.4" fill="#000"/><circle cx="305.2" cy="1011.6" r="1.2" fill="#fff"/>
<circle cx="312.3" cy="1012.3" r="5.4" fill="#000"/><circle cx="311.8" cy="1011.6" r="1.2" fill="#fff"/>
<circle cx="318.9" cy="1012.3" r="5.4" fill="#000"/><circle cx="318.4" cy="1011.6" r="1.2" fill="#fff"/>
<circle cx="325.5" cy="1012.3" r="5.4" fill="#000"/><circle cx="325" cy="1011.6" r="1.2" fill="#fff"/>
<circle cx="332.1" cy="1012.3" r="5.4" fill="#000"/><circle cx="331.6" cy="1011.6" r="1.2" fill="#fff"/>
<circle cx="338.7" cy="1012.3" r="5.4" fill="#000"/><circle cx="338.2" cy="1011.6" r="1.2" fill="#fff"/>
<circle cx="345.3" cy="1015" r="5.4" fill="#000"/><circle cx="344.8" cy="1014.3" r="1.2" fill="#fff"/>
<circle cx="351.9" cy="1007.5" r="5.4" fill="#000"/><circle cx="351.4" cy="1006.8" r="1.2" fill="#fff"/>
<circle cx="358.5" cy="1003.6" r="5.4" fill="#000"/><circle cx="358" cy="1002.9" r="1.2" fill="#fff"/>
<circle cx="365.1" cy="1004" r="5.4" fill="#000"/><circle cx="364.6" cy="1003.3" r="1.2" fill="#fff"/>
<circle cx="371.7" cy="1005.2" r="5.4" fill="#000"/><circle cx="371.2" cy="1004.5" r="1.2" fill="#fff"/>
<circle cx="378.4" cy="1006.3" r="5.4" fill="#000"/><circle cx="377.9" cy="1005.6" r="1.2" fill="#fff"/>
<circle cx="385" cy="1007.5" r="5.4" fill="#000"/><circle cx="384.5" cy="1006.8" r="1.2" fill="#fff"/>
<circle cx="391.6" cy="992.3" r="5.4" fill="#000"/><circle cx="391.1" cy="991.6" r="1.2" fill="#fff"/>
<circle cx="398.2" cy="983.8" r="5.4" fill="#000"/><circle cx="397.7" cy="983.1" r="1.2" fill="#fff"/>
<circle cx="404.8" cy="985.2" r="5.4" fill="#000"/><circle cx="404.3" cy="984.5" r="1.2" fill="#fff"/>
<circle cx="411.4" cy="986.1" r="5.4" fill="#000"/><circle cx="410.9" cy="985.4" r="1.2" fill="#fff"/>
<circle cx="418" cy="987.4" r="5.4" fill="#000"/><circle cx="417.5" cy="986.7" r="1.2" fill="#fff"/>
<circle cx="424.6" cy="986.7" r="5.4" fill="#000"/><circle cx="424.1" cy="986" r="1.2" fill="#fff"/>
<circle cx="431.2" cy="966.6" r="5.4" fill="#000"/><circle cx="430.7" cy="965.9" r="1.2" fill="#fff"/>
<circle cx="437.8" cy="939.8" r="5.4" fill="#000"/><circle cx="437.3" cy="939.1" r="1.2" fill="#fff"/>
<circle cx="444.4" cy="941.4" r="5.4" fill="#000"/><circle cx="443.9" cy="940.7" r="1.2" fill="#fff"/>
<circle cx="451" cy="943.2" r="5.4" fill="#000"/><circle cx="450.5" cy="942.5" r="1.2" fill="#fff"/>
<circle cx="457.7" cy="945" r="5.4" fill="#000"/><circle cx="457.2" cy="944.3" r="1.2" fill="#fff"/>
<circle cx="464.3" cy="932" r="5.4" fill="#000"/><circle cx="463.8" cy="931.3" r="1.2" fill="#fff"/>
<circle cx="470.9" cy="908.5" r="5.4" fill="#000"/><circle cx="470.4" cy="907.8" r="1.2" fill="#fff"/>
<circle cx="477.5" cy="885.1" r="5.4" fill="#000"/><circle cx="477" cy="884.4" r="1.2" fill="#fff"/>
<circle cx="484.1" cy="885.1" r="5.4" fill="#000"/><circle cx="483.6" cy="884.4" r="1.2" fill="#fff"/>
<circle cx="490.7" cy="887.3" r="5.4" fill="#000"/><circle cx="490.2" cy="886.6" r="1.2" fill="#fff"/>
<circle cx="497.3" cy="880.6" r="5.4" fill="#000"/><circle cx="496.8" cy="879.9" r="1.2" fill="#fff"/>
<circle cx="503.9" cy="834.1" r="5.4" fill="#000"/><circle cx="503.4" cy="833.4" r="1.2" fill="#fff"/>
<circle cx="510.5" cy="837.1" r="5.4" fill="#000"/><circle cx="510" cy="836.4" r="1.2" fill="#fff"/>
<circle cx="517.1" cy="820" r="5.4" fill="#000"/><circle cx="516.6" cy="819.3" r="1.2" fill="#fff"/>
<circle cx="523.7" cy="792.6" r="5.4" fill="#000"/><circle cx="523.2" cy="791.9" r="1.2" fill="#fff"/>
<circle cx="530.3" cy="795.5" r="5.4" fill="#000"/><circle cx="529.8" cy="794.8" r="1.2" fill="#fff"/>
<circle cx="536.9" cy="798.4" r="5.4" fill="#000"/><circle cx="536.4" cy="797.7" r="1.2" fill="#fff"/>
<circle cx="543.6" cy="801.2" r="5.4" fill="#000"/><circle cx="543.1" cy="800.5" r="1.2" fill="#fff"/>
<circle cx="550.2" cy="804.1" r="5.4" fill="#000"/><circle cx="549.7" cy="803.4" r="1.2" fill="#fff"/>
<circle cx="556.8" cy="806.9" r="5.4" fill="#000"/><circle cx="556.3" cy="806.2" r="1.2" fill="#fff"/>
<circle cx="563.4" cy="809.8" r="5.4" fill="#000"/><circle cx="562.9" cy="809.1" r="1.2" fill="#fff"/>
<circle cx="570" cy="812.6" r="5.4" fill="#000"/><circle cx="569.5" cy="811.9" r="1.2" fill="#fff"/>
<circle cx="576.6" cy="815.5" r="5.4" fill="#000"/><circle cx="576.1" cy="814.8" r="1.2" fill="#fff"/>
<circle cx="583.2" cy="845.5" r="5.4" fill="#000"/><circle cx="582.7" cy="844.8" r="1.2" fill="#fff"/>
<circle cx="589.8" cy="848" r="5.4" fill="#000"/><circle cx="589.3" cy="847.3" r="1.2" fill="#fff"/>
<circle cx="596.4" cy="850.5" r="5.4" fill="#000"/><circle cx="595.9" cy="849.8" r="1.2" fill="#fff"/>
<circle cx="603" cy="852.9" r="5.4" fill="#000"/><circle cx="602.5" cy="852.2" r="1.2" fill="#fff"/>
<circle cx="609.6" cy="855.4" r="5.4" fill="#000"/><circle cx="609.1" cy="854.7" r="1.2" fill="#fff"/>
<circle cx="616.2" cy="857.8" r="5.4" fill="#000"/><circle cx="615.7" cy="857.1" r="1.2" fill="#fff"/>
<circle cx="622.9" cy="860.3" r="5.4" fill="#000"/><circle cx="622.4" cy="859.6" r="1.2" fill="#fff"/>
<circle cx="629.5" cy="919.2" r="5.4" fill="#000"/><circle cx="629" cy="918.5" r="1.2" fill="#fff"/>
<circle cx="636.1" cy="957.5" r="5.4" fill="#000"/><circle cx="635.6" cy="956.8" r="1.2" fill="#fff"/>
<circle cx="642.7" cy="958.8" r="5.4" fill="#000"/><circle cx="642.2" cy="958.1" r="1.2" fill="#fff"/>
<circle cx="649.3" cy="960.3" r="5.4" fill="#000"/><circle cx="648.8" cy="959.6" r="1.2" fill="#fff"/>
<circle cx="655.9" cy="961.8" r="5.4" fill="#000"/><circle cx="655.4" cy="961.1" r="1.2" fill="#fff"/>
<circle cx="662.5" cy="963.3" r="5.4" fill="#000"/><circle cx="662" cy="962.6" r="1.2" fill="#fff"/>
<circle cx="669.1" cy="964.8" r="5.4" fill="#000"/><circle cx="668.6" cy="964.1" r="1.2" fill="#fff"/>
<circle cx="675.7" cy="966.3" r="5.4" fill="#000"/><circle cx="675.2" cy="965.6" r="1.2" fill="#fff"/>
<circle cx="682.3" cy="967.7" r="5.4" fill="#000"/><circle cx="681.8" cy="967" r="1.2" fill="#fff"/>
<circle cx="688.9" cy="969.2" r="5.4" fill="#000"/><circle cx="688.4" cy="968.5" r="1.2" fill="#fff"/>
<circle cx="695.5" cy="970.7" r="5.4" fill="#000"/><circle cx="695" cy="970" r="1.2" fill="#fff"/>
<circle cx="702.1" cy="972.2" r="5.4" fill="#000"/><circle cx="701.6" cy="971.5" r="1.2" fill="#fff"/>
<circle cx="708.8" cy="973.7" r="5.4" fill="#000"/><circle cx="708.3" cy="973" r="1.2" fill="#fff"/>
<circle cx="715.4" cy="975.2" r="5.4" fill="#000"/><circle cx="714.9" cy="974.5" r="1.2" fill="#fff"/>
<circle cx="722" cy="983.6" r="5.4" fill="#000"/><circle cx="721.5" cy="982.9" r="1.2" fill="#fff"/>
<circle cx="728.6" cy="1003.8" r="5.4" fill="#000"/><circle cx="728.1" cy="1003.1" r="1.2" fill="#fff"/>
<circle cx="735.2" cy="1059" r="5.4" fill="#000"/><circle cx="734.7" cy="1058.3" r="1.2" fill="#fff"/>
<circle cx="741.8" cy="1063" r="5.4" fill="#000"/><circle cx="741.3" cy="1062.3" r="1.2" fill="#fff"/>
<circle cx="748.4" cy="1064.2" r="5.4" fill="#000"/><circle cx="747.9" cy="1063.5" r="1.2" fill="#fff"/>
<circle cx="755" cy="1064.9" r="5.4" fill="#000"/><circle cx="754.5" cy="1064.2" r="1.2" fill="#fff"/>
<circle cx="761.6" cy="1065.6" r="5.4" fill="#000"/><circle cx="761.1" cy="1064.9" r="1.2" fill="#fff"/>
<circle cx="768.2" cy="1066.3" r="5.4" fill="#000"/><circle cx="767.7" cy="1065.6" r="1.2" fill="#fff"/>
<circle cx="774.8" cy="1067" r="5.4" fill="#000"/><circle cx="774.3" cy="1066.3" r="1.2" fill="#fff"/>
<circle cx="781.4" cy="1067.7" r="5.4" fill="#000"/><circle cx="780.9" cy="1067" r="1.2" fill="#fff"/>
<circle cx="788.1" cy="1068.5" r="5.4" fill="#000"/><circle cx="787.6" cy="1067.8" r="1.2" fill="#fff"/>
<circle cx="794.7" cy="1069.2" r="5.4" fill="#000"/><circle cx="794.2" cy="1068.5" r="1.2" fill="#fff"/>
<circle cx="801.3" cy="1069.9" r="5.4" fill="#000"/><circle cx="800.8" cy="1069.2" r="1.2" fill="#fff"/>
<circle cx="807.9" cy="1070.6" r="5.4" fill="#000"/><circle cx="807.4" cy="1069.9" r="1.2" fill="#fff"/>
<circle cx="814.5" cy="1071.3" r="5.4" fill="#000"/><circle cx="814" cy="1070.6" r="1.2" fill="#fff"/>
<circle cx="821.1" cy="1072" r="5.4" fill="#000"/><circle cx="820.6" cy="1071.3" r="1.2" fill="#fff"/>
<circle cx="827.7" cy="1072.5" r="5.4" fill="#000"/><circle cx="827.2" cy="1071.8" r="1.2" fill="#fff"/>
<polyline points="166.9,1048 173.5,1048 180.1,1048 186.7,1048 193.3,1048 199.9,1050.5 206.5,1054 213.2,1054.1 219.8,1054.2 226.4,1054.3 233,1054.5 239.6,1055.8 246.2,1056 252.8,1056 259.4,1056 266,1056 272.6,1056 279.2,1056 285.8,1056 292.5,1056 299.1,1056 305.7,1056 312.3,1055.6 318.9,1049.5 325.5,1049.5 332.1,1049.5 338.7,1049.5 345.3,1049.5 351.9,1049.5 358.5,1042 365.1,1042 371.7,1042 378.4,1042 385,1042 391.6,1040.1 398.2,1028.9 404.8,1028.7 411.4,1028.5 418,1028.3 424.6,1028.2 431.2,1023.5 437.8,1017 444.4,1016.9 451,1016.9 457.7,1016.8 464.3,1016.8 470.9,1016.7 477.5,1010.3 484.1,1007.5 490.7,1007 497.3,1008.1 503.9,1009.4 510.5,1010.7 517.1,1012 523.7,1015.8 530.3,1020.1 536.9,1021.1 543.6,1022.1 550.2,1023.1 556.8,1024 563.4,1025 570,1026 576.6,1027 583.2,1027.9 589.8,1028.9 596.4,1029.9 603,1030.9 609.6,1036 616.2,1037.3 622.9,1038.7 629.5,1048.1 636.1,1050.7 642.7,1051.6 649.3,1052.4 655.9,1053.2 662.5,1054 669.1,1054.8 675.7,1055.6 682.3,1056.4 688.9,1057.2 695.5,1058 702.1,1058.9 708.8,1059.7 715.4,1060.5 722,1061.3 728.6,1062.1 735.2,1062.9 741.8,1065.3 748.4,1071.9 755,1074 761.6,1074.6 768.2,1075.2 774.8,1075.8 781.4,1076.4 788.1,1077 794.7,1077.6 801.3,1078.2 807.9,1078.8 814.5,1079.4 821.1,1080.1 827.7,1080.5" fill="none" stroke="#fe3018" stroke-width="8.6" stroke-linejoin="round" stroke-linecap="round"/>
<polygon points="161.4,1048 171.4,1040.8 171.4,1055.2" fill="#fe3018"/>
<polygon points="168,1048 178,1040.8 178,1055.2" fill="#fe3018"/>
<polygon points="174.6,1048 184.6,1040.8 184.6,1055.2" fill="#fe3018"/>
<polygon points="181.2,1048 191.2,1040.8 191.2,1055.2" fill="#fe3018"/>
<polygon points="187.8,1048 197.8,1040.8 197.8,1055.2" fill="#fe3018"/>
<polygon points="194.4,1050.5 204.4,1043.3 204.4,1057.8" fill="#fe3018"/>
<polygon points="201,1054 211,1046.8 211,1061.3" fill="#fe3018"/>
<polygon points="207.7,1054.1 217.7,1046.9 217.7,1061.4" fill="#fe3018"/>
<polygon points="214.3,1054.2 224.3,1047 224.3,1061.5" fill="#fe3018"/>
<polygon points="220.9,1054.3 230.9,1047.1 230.9,1061.6" fill="#fe3018"/>
<polygon points="227.5,1054.5 237.5,1047.2 237.5,1061.7" fill="#fe3018"/>
<polygon points="234.1,1055.8 244.1,1048.6 244.1,1063.1" fill="#fe3018"/>
<polygon points="240.7,1056 250.7,1048.8 250.7,1063.2" fill="#fe3018"/>
<polygon points="247.3,1056 257.3,1048.8 257.3,1063.2" fill="#fe3018"/>
<polygon points="253.9,1056 263.9,1048.8 263.9,1063.2" fill="#fe3018"/>
<polygon points="260.5,1056 270.5,1048.8 270.5,1063.2" fill="#fe3018"/>
<polygon points="267.1,1056 277.1,1048.8 277.1,1063.2" fill="#fe3018"/>
<polygon points="273.7,1056 283.7,1048.8 283.7,1063.2" fill="#fe3018"/>
<polygon points="280.3,1056 290.3,1048.8 290.3,1063.2" fill="#fe3018"/>
<polygon points="287,1056 297,1048.8 297,1063.2" fill="#fe3018"/>
<polygon points="293.6,1056 303.6,1048.8 303.6,1063.2" fill="#fe3018"/>
<polygon points="300.2,1056 310.2,1048.8 310.2,1063.2" fill="#fe3018"/>
<polygon points="306.8,1055.6 316.8,1048.3 316.8,1062.8" fill="#fe3018"/>
<polygon points="313.4,1049.5 323.4,1042.2 323.4,1056.8" fill="#fe3018"/>
<polygon points="320,1049.5 330,1042.2 330,1056.8" fill="#fe3018"/>
<polygon points="326.6,1049.5 336.6,1042.2 336.6,1056.8" fill="#fe3018"/>
<polygon points="333.2,1049.5 343.2,1042.2 343.2,1056.8" fill="#fe3018"/>
<polygon points="339.8,1049.5 349.8,1042.2 349.8,1056.8" fill="#fe3018"/>
<polygon points="346.4,1049.5 356.4,1042.2 356.4,1056.8" fill="#fe3018"/>
<polygon points="353,1042 363,1034.8 363,1049.2" fill="#fe3018"/>
<polygon points="359.6,1042 369.6,1034.8 369.6,1049.2" fill="#fe3018"/>
<polygon points="366.2,1042 376.2,1034.8 376.2,1049.2" fill="#fe3018"/>
<polygon points="372.9,1042 382.9,1034.8 382.9,1049.2" fill="#fe3018"/>
<polygon points="379.5,1042 389.5,1034.8 389.5,1049.2" fill="#fe3018"/>
<polygon points="386.1,1040.1 396.1,1032.9 396.1,1047.4" fill="#fe3018"/>
<polygon points="392.7,1028.9 402.7,1021.7 402.7,1036.2" fill="#fe3018"/>
<polygon points="399.3,1028.7 409.3,1021.5 409.3,1036" fill="#fe3018"/>
<polygon points="405.9,1028.5 415.9,1021.3 415.9,1035.8" fill="#fe3018"/>
<polygon points="412.5,1028.3 422.5,1021.1 422.5,1035.6" fill="#fe3018"/>
<polygon points="419.1,1028.2 429.1,1020.9 429.1,1035.4" fill="#fe3018"/>
<polygon points="425.7,1023.5 435.7,1016.3 435.7,1030.8" fill="#fe3018"/>
<polygon points="432.3,1017 442.3,1009.7 442.3,1024.2" fill="#fe3018"/>
<polygon points="438.9,1016.9 448.9,1009.7 448.9,1024.2" fill="#fe3018"/>
<polygon points="445.5,1016.9 455.5,1009.6 455.5,1024.1" fill="#fe3018"/>
<polygon points="452.2,1016.8 462.2,1009.6 462.2,1024.1" fill="#fe3018"/>
<polygon points="458.8,1016.8 468.8,1009.5 468.8,1024" fill="#fe3018"/>
<polygon points="465.4,1016.7 475.4,1009.5 475.4,1024" fill="#fe3018"/>
<polygon points="472,1010.3 482,1003.1 482,1017.6" fill="#fe3018"/>
<polygon points="478.6,1007.5 488.6,1000.2 488.6,1014.7" fill="#fe3018"/>
<polygon points="485.2,1007 495.2,999.8 495.2,1014.2" fill="#fe3018"/>
<polygon points="491.8,1008.1 501.8,1000.8 501.8,1015.3" fill="#fe3018"/>
<polygon points="498.4,1009.4 508.4,1002.1 508.4,1016.6" fill="#fe3018"/>
<polygon points="505,1010.7 515,1003.5 515,1018" fill="#fe3018"/>
<polygon points="511.6,1012 521.6,1004.8 521.6,1019.3" fill="#fe3018"/>
<polygon points="518.2,1015.8 528.2,1008.6 528.2,1023.1" fill="#fe3018"/>
<polygon points="524.8,1020.1 534.8,1012.9 534.8,1027.4" fill="#fe3018"/>
<polygon points="531.4,1021.1 541.4,1013.9 541.4,1028.4" fill="#fe3018"/>
<polygon points="538.1,1022.1 548.1,1014.8 548.1,1029.3" fill="#fe3018"/>
<polygon points="544.7,1023.1 554.7,1015.8 554.7,1030.3" fill="#fe3018"/>
<polygon points="551.3,1024 561.3,1016.8 561.3,1031.3" fill="#fe3018"/>
<polygon points="557.9,1025 567.9,1017.8 567.9,1032.3" fill="#fe3018"/>
<polygon points="564.5,1026 574.5,1018.7 574.5,1033.2" fill="#fe3018"/>
<polygon points="571.1,1027 581.1,1019.7 581.1,1034.2" fill="#fe3018"/>
<polygon points="577.7,1027.9 587.7,1020.7 587.7,1035.2" fill="#fe3018"/>
<polygon points="584.3,1028.9 594.3,1021.7 594.3,1036.2" fill="#fe3018"/>
<polygon points="590.9,1029.9 600.9,1022.6 600.9,1037.1" fill="#fe3018"/>
<polygon points="597.5,1030.9 607.5,1023.6 607.5,1038.1" fill="#fe3018"/>
<polygon points="604.1,1036 614.1,1028.8 614.1,1043.3" fill="#fe3018"/>
<polygon points="610.7,1037.3 620.7,1030.1 620.7,1044.6" fill="#fe3018"/>
<polygon points="617.4,1038.7 627.4,1031.4 627.4,1045.9" fill="#fe3018"/>
<polygon points="624,1048.1 634,1040.9 634,1055.4" fill="#fe3018"/>
<polygon points="630.6,1050.7 640.6,1043.5 640.6,1058" fill="#fe3018"/>
<polygon points="637.2,1051.6 647.2,1044.3 647.2,1058.8" fill="#fe3018"/>
<polygon points="643.8,1052.4 653.8,1045.1 653.8,1059.6" fill="#fe3018"/>
<polygon points="650.4,1053.2 660.4,1045.9 660.4,1060.4" fill="#fe3018"/>
<polygon points="657,1054 667,1046.7 667,1061.2" fill="#fe3018"/>
<polygon points="663.6,1054.8 673.6,1047.5 673.6,1062" fill="#fe3018"/>
<polygon points="670.2,1055.6 680.2,1048.4 680.2,1062.9" fill="#fe3018"/>
<polygon points="676.8,1056.4 686.8,1049.2 686.8,1063.7" fill="#fe3018"/>
<polygon points="683.4,1057.2 693.4,1050 693.4,1064.5" fill="#fe3018"/>
<polygon points="690,1058 700,1050.8 700,1065.3" fill="#fe3018"/>
<polygon points="696.6,1058.9 706.6,1051.6 706.6,1066.1" fill="#fe3018"/>
<polygon points="703.3,1059.7 713.3,1052.4 713.3,1066.9" fill="#fe3018"/>
<polygon points="709.9,1060.5 719.9,1053.2 719.9,1067.7" fill="#fe3018"/>
<polygon points="716.5,1061.3 726.5,1054 726.5,1068.5" fill="#fe3018"/>
<polygon points="723.1,1062.1 733.1,1054.8 733.1,1069.3" fill="#fe3018"/>
<polygon points="729.7,1062.9 739.7,1055.7 739.7,1070.2" fill="#fe3018"/>
<polygon points="736.3,1065.3 746.3,1058 746.3,1072.5" fill="#fe3018"/>
<polygon points="742.9,1071.9 752.9,1064.7 752.9,1079.2" fill="#fe3018"/>
<polygon points="749.5,1074 759.5,1066.7 759.5,1081.2" fill="#fe3018"/>
<polygon points="756.1,1074.6 766.1,1067.3 766.1,1081.8" fill="#fe3018"/>
<polygon points="762.7,1075.2 772.7,1067.9 772.7,1082.4" fill="#fe3018"/>
<polygon points="769.3,1075.8 779.3,1068.5 779.3,1083" fill="#fe3018"/>
<polygon points="775.9,1076.4 785.9,1069.1 785.9,1083.6" fill="#fe3018"/>
<polygon points="782.6,1077 792.6,1069.8 792.6,1084.3" fill="#fe3018"/>
<polygon points="789.2,1077.6 799.2,1070.4 799.2,1084.9" fill="#fe3018"/>
<polygon points="795.8,1078.2 805.8,1071 805.8,1085.5" fill="#fe3018"/>
<polygon points="802.4,1078.8 812.4,1071.6 812.4,1086.1" fill="#fe3018"/>
<polygon points="809,1079.4 819,1072.2 819,1086.7" fill="#fe3018"/>
<polygon points="815.6,1080.1 825.6,1072.8 825.6,1087.3" fill="#fe3018"/>
<polygon points="822.2,1080.5 832.2,1073.2 832.2,1087.8" fill="#fe3018"/>
<polyline points="166.9,1074 173.5,1074 180.1,1074 186.7,1074 193.3,1074 199.9,1074 206.5,1074 213.2,1073.9 219.8,1073.5 226.4,1073.1 233,1072.7 239.6,1072.3 246.2,1071.9 252.8,1071.4 259.4,1071 266,1070.6 272.6,1070.2 279.2,1069.8 285.8,1069.5 292.5,1069.1 299.1,1068.8 305.7,1068.4 312.3,1068.1 318.9,1063 325.5,1063.2 332.1,1063.3 338.7,1063.5 345.3,1063.7 351.9,1063.8 358.5,1064 365.1,1064.1 371.7,1064.3 378.4,1064.5 385,1064.8 391.6,1065.3 398.2,1065.7 404.8,1066.2 411.4,1066.6 418,1067.1 424.6,1067.5 431.2,1067.9 437.8,1077.5 444.4,1077.6 451,1077.7 457.7,1077.8 464.3,1077.9 470.9,1078 477.5,1085.1 484.1,1085.2 490.7,1085.3 497.3,1085.5 503.9,1085.6 510.5,1085.8 517.1,1085.9 523.7,1089.9 530.3,1095.1 536.9,1095.3 543.6,1095.4 550.2,1095.6 556.8,1095.7 563.4,1095.9 570,1096 576.6,1096.2 583.2,1096.3 589.8,1096.5 596.4,1096.6 603,1096.8 609.6,1096.9 616.2,1101.5 622.9,1105.6 629.5,1107.1 636.1,1107.2 642.7,1107.4 649.3,1107.5 655.9,1107.7 662.5,1107.8 669.1,1108 675.7,1108.1 682.3,1108.3 688.9,1108.4 695.5,1108.6 702.1,1108.7 708.8,1108.9 715.4,1109 722,1109.2 728.6,1109.4 735.2,1109.7 741.8,1116.3 748.4,1119.6 755,1119.7 761.6,1119.9 768.2,1120.1 774.8,1120.2 781.4,1120.4 788.1,1120.6 794.7,1120.7 801.3,1120.9 807.9,1121.1 814.5,1121.2 821.1,1121.4 827.7,1121.5" fill="none" stroke="#0a68f2" stroke-width="8.4" stroke-linejoin="round" stroke-linecap="round"/>
<polygon points="166.9,1067.1 172.4,1074 166.9,1080.9 161.4,1074" fill="#0a68f2"/>
<polygon points="173.5,1067.1 179,1074 173.5,1080.9 168,1074" fill="#0a68f2"/>
<polygon points="180.1,1067.1 185.6,1074 180.1,1080.9 174.6,1074" fill="#0a68f2"/>
<polygon points="186.7,1067.1 192.2,1074 186.7,1080.9 181.2,1074" fill="#0a68f2"/>
<polygon points="193.3,1067.1 198.8,1074 193.3,1080.9 187.8,1074" fill="#0a68f2"/>
<polygon points="199.9,1067.1 205.4,1074 199.9,1080.9 194.4,1074" fill="#0a68f2"/>
<polygon points="206.5,1067.1 212,1074 206.5,1080.9 201,1074" fill="#0a68f2"/>
<polygon points="213.2,1067 218.7,1073.9 213.2,1080.8 207.7,1073.9" fill="#0a68f2"/>
<polygon points="219.8,1066.6 225.3,1073.5 219.8,1080.4 214.3,1073.5" fill="#0a68f2"/>
<polygon points="226.4,1066.2 231.9,1073.1 226.4,1080 220.9,1073.1" fill="#0a68f2"/>
<polygon points="233,1065.8 238.5,1072.7 233,1079.6 227.5,1072.7" fill="#0a68f2"/>
<polygon points="239.6,1065.4 245.1,1072.3 239.6,1079.2 234.1,1072.3" fill="#0a68f2"/>
<polygon points="246.2,1065 251.7,1071.9 246.2,1078.8 240.7,1071.9" fill="#0a68f2"/>
<polygon points="252.8,1064.5 258.3,1071.4 252.8,1078.3 247.3,1071.4" fill="#0a68f2"/>
<polygon points="259.4,1064.1 264.9,1071 259.4,1077.9 253.9,1071" fill="#0a68f2"/>
<polygon points="266,1063.7 271.5,1070.6 266,1077.5 260.5,1070.6" fill="#0a68f2"/>
<polygon points="272.6,1063.3 278.1,1070.2 272.6,1077.1 267.1,1070.2" fill="#0a68f2"/>
<polygon points="279.2,1062.9 284.7,1069.8 279.2,1076.7 273.7,1069.8" fill="#0a68f2"/>
<polygon points="285.8,1062.6 291.3,1069.5 285.8,1076.4 280.3,1069.5" fill="#0a68f2"/>
<polygon points="292.5,1062.2 298,1069.1 292.5,1076 287,1069.1" fill="#0a68f2"/>
<polygon points="299.1,1061.9 304.6,1068.8 299.1,1075.7 293.6,1068.8" fill="#0a68f2"/>
<polygon points="305.7,1061.5 311.2,1068.4 305.7,1075.3 300.2,1068.4" fill="#0a68f2"/>
<polygon points="312.3,1061.2 317.8,1068.1 312.3,1075 306.8,1068.1" fill="#0a68f2"/>
<polygon points="318.9,1056.1 324.4,1063 318.9,1069.9 313.4,1063" fill="#0a68f2"/>
<polygon points="325.5,1056.3 331,1063.2 325.5,1070.1 320,1063.2" fill="#0a68f2"/>
<polygon points="332.1,1056.4 337.6,1063.3 332.1,1070.2 326.6,1063.3" fill="#0a68f2"/>
<polygon points="338.7,1056.6 344.2,1063.5 338.7,1070.4 333.2,1063.5" fill="#0a68f2"/>
<polygon points="345.3,1056.8 350.8,1063.7 345.3,1070.6 339.8,1063.7" fill="#0a68f2"/>
<polygon points="351.9,1056.9 357.4,1063.8 351.9,1070.7 346.4,1063.8" fill="#0a68f2"/>
<polygon points="358.5,1057.1 364,1064 358.5,1070.9 353,1064" fill="#0a68f2"/>
<polygon points="365.1,1057.2 370.6,1064.1 365.1,1071 359.6,1064.1" fill="#0a68f2"/>
<polygon points="371.7,1057.4 377.2,1064.3 371.7,1071.2 366.2,1064.3" fill="#0a68f2"/>
<polygon points="378.4,1057.6 383.9,1064.5 378.4,1071.4 372.9,1064.5" fill="#0a68f2"/>
<polygon points="385,1057.9 390.5,1064.8 385,1071.7 379.5,1064.8" fill="#0a68f2"/>
<polygon points="391.6,1058.4 397.1,1065.3 391.6,1072.2 386.1,1065.3" fill="#0a68f2"/>
<polygon points="398.2,1058.8 403.7,1065.7 398.2,1072.6 392.7,1065.7" fill="#0a68f2"/>
<polygon points="404.8,1059.3 410.3,1066.2 404.8,1073.1 399.3,1066.2" fill="#0a68f2"/>
<polygon points="411.4,1059.7 416.9,1066.6 411.4,1073.5 405.9,1066.6" fill="#0a68f2"/>
<polygon points="418,1060.2 423.5,1067.1 418,1074 412.5,1067.1" fill="#0a68f2"/>
<polygon points="424.6,1060.6 430.1,1067.5 424.6,1074.4 419.1,1067.5" fill="#0a68f2"/>
<polygon points="431.2,1061 436.7,1067.9 431.2,1074.8 425.7,1067.9" fill="#0a68f2"/>
<polygon points="437.8,1070.6 443.3,1077.5 437.8,1084.4 432.3,1077.5" fill="#0a68f2"/>
<polygon points="444.4,1070.7 449.9,1077.6 444.4,1084.5 438.9,1077.6" fill="#0a68f2"/>
<polygon points="451,1070.8 456.5,1077.7 451,1084.6 445.5,1077.7" fill="#0a68f2"/>
<polygon points="457.7,1070.9 463.2,1077.8 457.7,1084.7 452.2,1077.8" fill="#0a68f2"/>
<polygon points="464.3,1071 469.8,1077.9 464.3,1084.8 458.8,1077.9" fill="#0a68f2"/>
<polygon points="470.9,1071.1 476.4,1078 470.9,1084.9 465.4,1078" fill="#0a68f2"/>
<polygon points="477.5,1078.2 483,1085.1 477.5,1092 472,1085.1" fill="#0a68f2"/>
<polygon points="484.1,1078.3 489.6,1085.2 484.1,1092.1 478.6,1085.2" fill="#0a68f2"/>
<polygon points="490.7,1078.4 496.2,1085.3 490.7,1092.2 485.2,1085.3" fill="#0a68f2"/>
<polygon points="497.3,1078.6 502.8,1085.5 497.3,1092.4 491.8,1085.5" fill="#0a68f2"/>
<polygon points="503.9,1078.7 509.4,1085.6 503.9,1092.5 498.4,1085.6" fill="#0a68f2"/>
<polygon points="510.5,1078.9 516,1085.8 510.5,1092.7 505,1085.8" fill="#0a68f2"/>
<polygon points="517.1,1079 522.6,1085.9 517.1,1092.8 511.6,1085.9" fill="#0a68f2"/>
<polygon points="523.7,1083 529.2,1089.9 523.7,1096.8 518.2,1089.9" fill="#0a68f2"/>
<polygon points="530.3,1088.2 535.8,1095.1 530.3,1102 524.8,1095.1" fill="#0a68f2"/>
<polygon points="536.9,1088.4 542.4,1095.3 536.9,1102.2 531.4,1095.3" fill="#0a68f2"/>
<polygon points="543.6,1088.5 549.1,1095.4 543.6,1102.3 538.1,1095.4" fill="#0a68f2"/>
<polygon points="550.2,1088.7 555.7,1095.6 550.2,1102.5 544.7,1095.6" fill="#0a68f2"/>
<polygon points="556.8,1088.8 562.3,1095.7 556.8,1102.6 551.3,1095.7" fill="#0a68f2"/>
<polygon points="563.4,1089 568.9,1095.9 563.4,1102.8 557.9,1095.9" fill="#0a68f2"/>
<polygon points="570,1089.1 575.5,1096 570,1102.9 564.5,1096" fill="#0a68f2"/>
<polygon points="576.6,1089.3 582.1,1096.2 576.6,1103.1 571.1,1096.2" fill="#0a68f2"/>
<polygon points="583.2,1089.4 588.7,1096.3 583.2,1103.2 577.7,1096.3" fill="#0a68f2"/>
<polygon points="589.8,1089.6 595.3,1096.5 589.8,1103.4 584.3,1096.5" fill="#0a68f2"/>
<polygon points="596.4,1089.7 601.9,1096.6 596.4,1103.5 590.9,1096.6" fill="#0a68f2"/>
<polygon points="603,1089.9 608.5,1096.8 603,1103.7 597.5,1096.8" fill="#0a68f2"/>
<polygon points="609.6,1090 615.1,1096.9 609.6,1103.8 604.1,1096.9" fill="#0a68f2"/>
<polygon points="616.2,1094.6 621.7,1101.5 616.2,1108.4 610.7,1101.5" fill="#0a68f2"/>
<polygon points="622.9,1098.7 628.4,1105.6 622.9,1112.5 617.4,1105.6" fill="#0a68f2"/>
<polygon points="629.5,1100.2 635,1107.1 629.5,1114 624,1107.1" fill="#0a68f2"/>
<polygon points="636.1,1100.3 641.6,1107.2 636.1,1114.1 630.6,1107.2" fill="#0a68f2"/>
<polygon points="642.7,1100.5 648.2,1107.4 642.7,1114.3 637.2,1107.4" fill="#0a68f2"/>
<polygon points="649.3,1100.6 654.8,1107.5 649.3,1114.4 643.8,1107.5" fill="#0a68f2"/>
<polygon points="655.9,1100.8 661.4,1107.7 655.9,1114.6 650.4,1107.7" fill="#0a68f2"/>
<polygon points="662.5,1100.9 668,1107.8 662.5,1114.7 657,1107.8" fill="#0a68f2"/>
<polygon points="669.1,1101.1 674.6,1108 669.1,1114.9 663.6,1108" fill="#0a68f2"/>
<polygon points="675.7,1101.2 681.2,1108.1 675.7,1115 670.2,1108.1" fill="#0a68f2"/>
<polygon points="682.3,1101.4 687.8,1108.3 682.3,1115.2 676.8,1108.3" fill="#0a68f2"/>
<polygon points="688.9,1101.5 694.4,1108.4 688.9,1115.3 683.4,1108.4" fill="#0a68f2"/>
<polygon points="695.5,1101.7 701,1108.6 695.5,1115.5 690,1108.6" fill="#0a68f2"/>
<polygon points="702.1,1101.8 707.6,1108.7 702.1,1115.6 696.6,1108.7" fill="#0a68f2"/>
<polygon points="708.8,1102 714.3,1108.9 708.8,1115.8 703.3,1108.9" fill="#0a68f2"/>
<polygon points="715.4,1102.1 720.9,1109 715.4,1115.9 709.9,1109" fill="#0a68f2"/>
<polygon points="722,1102.3 727.5,1109.2 722,1116.1 716.5,1109.2" fill="#0a68f2"/>
<polygon points="728.6,1102.5 734.1,1109.4 728.6,1116.3 723.1,1109.4" fill="#0a68f2"/>
<polygon points="735.2,1102.8 740.7,1109.7 735.2,1116.6 729.7,1109.7" fill="#0a68f2"/>
<polygon points="741.8,1109.4 747.3,1116.3 741.8,1123.2 736.3,1116.3" fill="#0a68f2"/>
<polygon points="748.4,1112.7 753.9,1119.6 748.4,1126.5 742.9,1119.6" fill="#0a68f2"/>
<polygon points="755,1112.8 760.5,1119.7 755,1126.6 749.5,1119.7" fill="#0a68f2"/>
<polygon points="761.6,1113 767.1,1119.9 761.6,1126.8 756.1,1119.9" fill="#0a68f2"/>
<polygon points="768.2,1113.2 773.7,1120.1 768.2,1127 762.7,1120.1" fill="#0a68f2"/>
<polygon points="774.8,1113.3 780.3,1120.2 774.8,1127.1 769.3,1120.2" fill="#0a68f2"/>
<polygon points="781.4,1113.5 786.9,1120.4 781.4,1127.3 775.9,1120.4" fill="#0a68f2"/>
<polygon points="788.1,1113.7 793.6,1120.6 788.1,1127.5 782.6,1120.6" fill="#0a68f2"/>
<polygon points="794.7,1113.8 800.2,1120.7 794.7,1127.6 789.2,1120.7" fill="#0a68f2"/>
<polygon points="801.3,1114 806.8,1120.9 801.3,1127.8 795.8,1120.9" fill="#0a68f2"/>
<polygon points="807.9,1114.2 813.4,1121.1 807.9,1128 802.4,1121.1" fill="#0a68f2"/>
<polygon points="814.5,1114.3 820,1121.2 814.5,1128.1 809,1121.2" fill="#0a68f2"/>
<polygon points="821.1,1114.5 826.6,1121.4 821.1,1128.3 815.6,1121.4" fill="#0a68f2"/>
<polygon points="827.7,1114.6 833.2,1121.5 827.7,1128.4 822.2,1121.5" fill="#0a68f2"/>
<polyline points="166.9,1104 173.5,1104 180.1,1104 186.7,1104 193.3,1104 199.9,1104.6 206.5,1106.5 213.2,1106.5 219.8,1106.4 226.4,1106.4 233,1106.4 239.6,1106.4 246.2,1106.4 252.8,1106.3 259.4,1106.3 266,1106.3 272.6,1106.3 279.2,1106.2 285.8,1106.2 292.5,1106.2 299.1,1106.2 305.7,1106.2 312.3,1106.1 318.9,1106.1 325.5,1106.1 332.1,1106.1 338.7,1106.1 345.3,1106 351.9,1106 358.5,1108.5 365.1,1108.7 371.7,1108.9 378.4,1109.1 385,1109.3 391.6,1111.6 398.2,1113.7 404.8,1114 411.4,1114.2 418,1114.5 424.6,1114.7 431.2,1115 437.8,1120.6 444.4,1120.9 451,1121.2 457.7,1121.4 464.3,1121.7 470.9,1122 477.5,1126.5 484.1,1126.7 490.7,1126.8 497.3,1126.9 503.9,1127 510.5,1127.2 517.1,1127.3 523.7,1127.4 530.3,1131.7 536.9,1132.6 543.6,1132.8 550.2,1132.9 556.8,1133 563.4,1133.2 570,1133.3 576.6,1133.5 583.2,1133.6 589.8,1133.8 596.4,1133.9 603,1134 609.6,1134.2 616.2,1134.3 622.9,1134.5 629.5,1138.1 636.1,1138.6 642.7,1138.6 649.3,1138.7 655.9,1138.8 662.5,1138.8 669.1,1138.9 675.7,1139 682.3,1139 688.9,1139.1 695.5,1139.2 702.1,1139.3 708.8,1139.3 715.4,1139.4 722,1139.5 728.6,1139.5 735.2,1139.6 741.8,1139.7 748.4,1139.7 755,1139.8 761.6,1139.9 768.2,1139.9 774.8,1141.4 781.4,1144.6 788.1,1144.7 794.7,1144.8 801.3,1145 807.9,1145.1 814.5,1145.3 821.1,1145.4 827.7,1145.5" fill="none" stroke="#007a00" stroke-width="2.5" stroke-linejoin="round" stroke-linecap="round"/>
<rect x="161.9" y="1099" width="10" height="10" fill="#007a00"/>
<rect x="168.5" y="1099" width="10" height="10" fill="#007a00"/>
<rect x="175.1" y="1099" width="10" height="10" fill="#007a00"/>
<rect x="181.7" y="1099" width="10" height="10" fill="#007a00"/>
<rect x="188.3" y="1099" width="10" height="10" fill="#007a00"/>
<rect x="194.9" y="1099.6" width="10" height="10" fill="#007a00"/>
<rect x="201.5" y="1101.5" width="10" height="10" fill="#007a00"/>
<rect x="208.2" y="1101.5" width="10" height="10" fill="#007a00"/>
<rect x="214.8" y="1101.4" width="10" height="10" fill="#007a00"/>
<rect x="221.4" y="1101.4" width="10" height="10" fill="#007a00"/>
<rect x="228" y="1101.4" width="10" height="10" fill="#007a00"/>
<rect x="234.6" y="1101.4" width="10" height="10" fill="#007a00"/>
<rect x="241.2" y="1101.4" width="10" height="10" fill="#007a00"/>
<rect x="247.8" y="1101.3" width="10" height="10" fill="#007a00"/>
<rect x="254.4" y="1101.3" width="10" height="10" fill="#007a00"/>
<rect x="261" y="1101.3" width="10" height="10" fill="#007a00"/>
<rect x="267.6" y="1101.3" width="10" height="10" fill="#007a00"/>
<rect x="274.2" y="1101.2" width="10" height="10" fill="#007a00"/>
<rect x="280.8" y="1101.2" width="10" height="10" fill="#007a00"/>
<rect x="287.5" y="1101.2" width="10" height="10" fill="#007a00"/>
<rect x="294.1" y="1101.2" width="10" height="10" fill="#007a00"/>
<rect x="300.7" y="1101.2" width="10" height="10" fill="#007a00"/>
<rect x="307.3" y="1101.1" width="10" height="10" fill="#007a00"/>
<rect x="313.9" y="1101.1" width="10" height="10" fill="#007a00"/>
<rect x="320.5" y="1101.1" width="10" height="10" fill="#007a00"/>
<rect x="327.1" y="1101.1" width="10" height="10" fill="#007a00"/>
<rect x="333.7" y="1101.1" width="10" height="10" fill="#007a00"/>
<rect x="340.3" y="1101" width="10" height="10" fill="#007a00"/>
<rect x="346.9" y="1101" width="10" height="10" fill="#007a00"/>
<rect x="353.5" y="1103.5" width="10" height="10" fill="#007a00"/>
<rect x="360.1" y="1103.7" width="10" height="10" fill="#007a00"/>
<rect x="366.7" y="1103.9" width="10" height="10" fill="#007a00"/>
<rect x="373.4" y="1104.1" width="10" height="10" fill="#007a00"/>
<rect x="380" y="1104.3" width="10" height="10" fill="#007a00"/>
<rect x="386.6" y="1106.6" width="10" height="10" fill="#007a00"/>
<rect x="393.2" y="1108.7" width="10" height="10" fill="#007a00"/>
<rect x="399.8" y="1109" width="10" height="10" fill="#007a00"/>
<rect x="406.4" y="1109.2" width="10" height="10" fill="#007a00"/>
<rect x="413" y="1109.5" width="10" height="10" fill="#007a00"/>
<rect x="419.6" y="1109.7" width="10" height="10" fill="#007a00"/>
<rect x="426.2" y="1110" width="10" height="10" fill="#007a00"/>
<rect x="432.8" y="1115.6" width="10" height="10" fill="#007a00"/>
<rect x="439.4" y="1115.9" width="10" height="10" fill="#007a00"/>
<rect x="446" y="1116.2" width="10" height="10" fill="#007a00"/>
<rect x="452.7" y="1116.4" width="10" height="10" fill="#007a00"/>
<rect x="459.3" y="1116.7" width="10" height="10" fill="#007a00"/>
<rect x="465.9" y="1117" width="10" height="10" fill="#007a00"/>
<rect x="472.5" y="1121.5" width="10" height="10" fill="#007a00"/>
<rect x="479.1" y="1121.7" width="10" height="10" fill="#007a00"/>
<rect x="485.7" y="1121.8" width="10" height="10" fill="#007a00"/>
<rect x="492.3" y="1121.9" width="10" height="10" fill="#007a00"/>
<rect x="498.9" y="1122" width="10" height="10" fill="#007a00"/>
<rect x="505.5" y="1122.2" width="10" height="10" fill="#007a00"/>
<rect x="512.1" y="1122.3" width="10" height="10" fill="#007a00"/>
<rect x="518.7" y="1122.4" width="10" height="10" fill="#007a00"/>
<rect x="525.3" y="1126.7" width="10" height="10" fill="#007a00"/>
<rect x="531.9" y="1127.6" width="10" height="10" fill="#007a00"/>
<rect x="538.6" y="1127.8" width="10" height="10" fill="#007a00"/>
<rect x="545.2" y="1127.9" width="10" height="10" fill="#007a00"/>
<rect x="551.8" y="1128" width="10" height="10" fill="#007a00"/>
<rect x="558.4" y="1128.2" width="10" height="10" fill="#007a00"/>
<rect x="565" y="1128.3" width="10" height="10" fill="#007a00"/>
<rect x="571.6" y="1128.5" width="10" height="10" fill="#007a00"/>
<rect x="578.2" y="1128.6" width="10" height="10" fill="#007a00"/>
<rect x="584.8" y="1128.8" width="10" height="10" fill="#007a00"/>
<rect x="591.4" y="1128.9" width="10" height="10" fill="#007a00"/>
<rect x="598" y="1129" width="10" height="10" fill="#007a00"/>
<rect x="604.6" y="1129.2" width="10" height="10" fill="#007a00"/>
<rect x="611.2" y="1129.3" width="10" height="10" fill="#007a00"/>
<rect x="617.9" y="1129.5" width="10" height="10" fill="#007a00"/>
<rect x="624.5" y="1133.1" width="10" height="10" fill="#007a00"/>
<rect x="631.1" y="1133.6" width="10" height="10" fill="#007a00"/>
<rect x="637.7" y="1133.6" width="10" height="10" fill="#007a00"/>
<rect x="644.3" y="1133.7" width="10" height="10" fill="#007a00"/>
<rect x="650.9" y="1133.8" width="10" height="10" fill="#007a00"/>
<rect x="657.5" y="1133.8" width="10" height="10" fill="#007a00"/>
<rect x="664.1" y="1133.9" width="10" height="10" fill="#007a00"/>
<rect x="670.7" y="1134" width="10" height="10" fill="#007a00"/>
<rect x="677.3" y="1134" width="10" height="10" fill="#007a00"/>
<rect x="683.9" y="1134.1" width="10" height="10" fill="#007a00"/>
<rect x="690.5" y="1134.2" width="10" height="10" fill="#007a00"/>
<rect x="697.1" y="1134.3" width="10" height="10" fill="#007a00"/>
<rect x="703.8" y="1134.3" width="10" height="10" fill="#007a00"/>
<rect x="710.4" y="1134.4" width="10" height="10" fill="#007a00"/>
<rect x="717" y="1134.5" width="10" height="10" fill="#007a00"/>
<rect x="723.6" y="1134.5" width="10" height="10" fill="#007a00"/>
<rect x="730.2" y="1134.6" width="10" height="10" fill="#007a00"/>
<rect x="736.8" y="1134.7" width="10" height="10" fill="#007a00"/>
<rect x="743.4" y="1134.7" width="10" height="10" fill="#007a00"/>
<rect x="750" y="1134.8" width="10" height="10" fill="#007a00"/>
<rect x="756.6" y="1134.9" width="10" height="10" fill="#007a00"/>
<rect x="763.2" y="1134.9" width="10" height="10" fill="#007a00"/>
<rect x="769.8" y="1136.4" width="10" height="10" fill="#007a00"/>
<rect x="776.4" y="1139.6" width="10" height="10" fill="#007a00"/>
<rect x="783.1" y="1139.7" width="10" height="10" fill="#007a00"/>
<rect x="789.7" y="1139.8" width="10" height="10" fill="#007a00"/>
<rect x="796.3" y="1140" width="10" height="10" fill="#007a00"/>
<rect x="802.9" y="1140.1" width="10" height="10" fill="#007a00"/>
<rect x="809.5" y="1140.3" width="10" height="10" fill="#007a00"/>
<rect x="816.1" y="1140.4" width="10" height="10" fill="#007a00"/>
<rect x="822.7" y="1140.5" width="10" height="10" fill="#007a00"/>
</g>
<rect x="165.3" y="669.9" width="660.6" height="483.5" fill="none" stroke="#000" stroke-width="2.7"/>
<text x="154" y="1157.9" class="tk" text-anchor="end">0.0</text>
<text x="154" y="1079.9" class="tk" text-anchor="end">0.1</text>
<text x="154" y="1001.9" class="tk" text-anchor="end">0.2</text>
<text x="154" y="923.8" class="tk" text-anchor="end">0.3</text>
<text x="154" y="845.8" class="tk" text-anchor="end">0.4</text>
<text x="154" y="767.8" class="tk" text-anchor="end">0.5</text>
<text x="154" y="689.8" class="tk" text-anchor="end">0.6</text>
<text x="165.3" y="1181" class="tk" text-anchor="middle">1.5</text>
<text x="297.4" y="1181" class="tk" text-anchor="middle">2.0</text>
<text x="429.5" y="1181" class="tk" text-anchor="middle">2.5</text>
<text x="561.7" y="1181" class="tk" text-anchor="middle">3.0</text>
<text x="693.8" y="1181" class="tk" text-anchor="middle">3.5</text>
<text x="825.9" y="1181" class="tk" text-anchor="middle">4.0</text>
<line x1="565.5" y1="692.9" x2="626.3" y2="692.9" stroke="#000" stroke-width="3"/>
<circle cx="595.6" cy="692.9" r="5.2" fill="#000"/><circle cx="594" cy="691.6" r="1.6" fill="#fff"/>
<line x1="565.5" y1="724.9" x2="626.3" y2="724.9" stroke="#ff1a10" stroke-width="2.6"/>
<polygon points="590.1,724.9 600.1,718.4 600.1,731.4" fill="#ff2a18"/>
<line x1="565.5" y1="757.0" x2="626.3" y2="757.0" stroke="#0a68f2" stroke-width="3"/>
<polygon points="595.6,750 601.1,757 595.6,764 590.1,757" fill="#0a68f2"/>
<line x1="565.5" y1="789.4" x2="626.3" y2="789.4" stroke="#007a00" stroke-width="3"/>
<rect x="590.4" y="784.1" width="10.5" height="10.5" fill="#007a00"/>
<text x="631" y="701.7" class="lg">MPS</text>
<text x="631" y="733.7" class="lg">MPS - 0.01APT</text>
<text x="631" y="765.8" class="lg">MPS - 0.05APT</text>
<text x="631" y="798.2" class="lg">MPS - 0.25APT</text>
<text transform="translate(103,927) rotate(-90)" text-anchor="middle" class="at">dVp / dW</text>
<text x="495.6" y="1221" text-anchor="middle" class="at">Pore diameter (nm)</text>
</g>
</svg>
</body></html>
